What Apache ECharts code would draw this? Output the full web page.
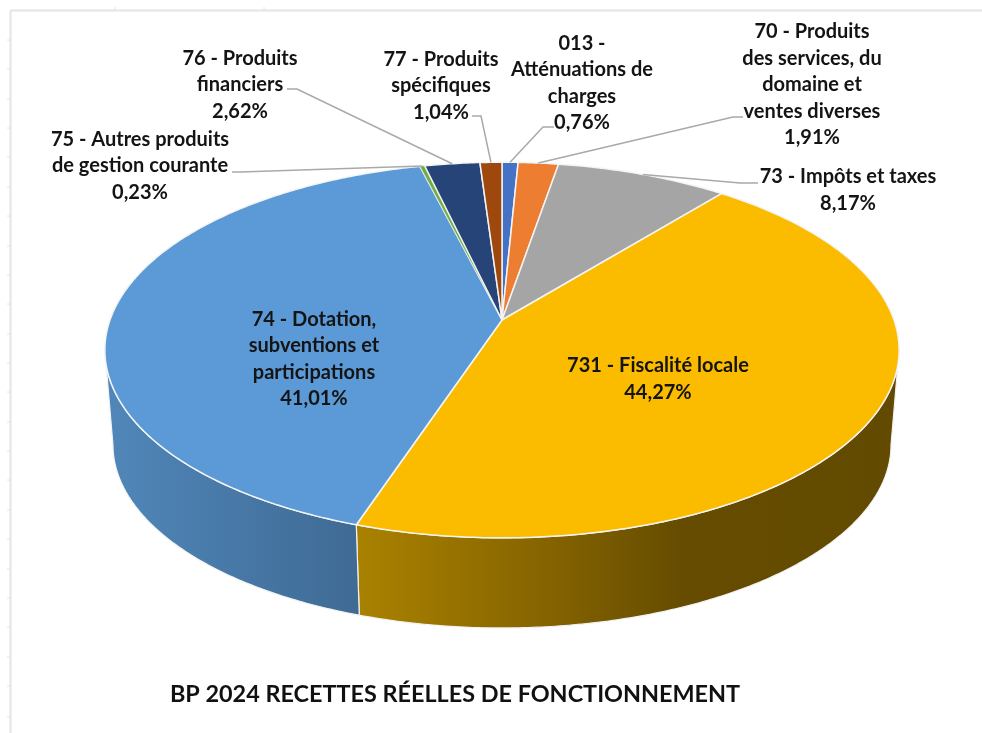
<!DOCTYPE html>
<html><head><meta charset="utf-8">
<style>html,body{margin:0;padding:0;background:#fff}#c{width:982px;height:733px}</style>
<script src="https://cdn.jsdelivr.net/npm/echarts@6/dist/echarts.min.js"></script>
</head><body><div id="c"></div>
<script>
const categories = [
  '013 -\nAtténuations de\ncharges',
  '70 - Produits\ndes services, du\ndomaine et\nventes diverses',
  '73 - Impôts et taxes',
  '731 - Fiscalité locale',
  '74 - Dotation,\nsubventions et\nparticipations',
  '75 - Autres produits\nde gestion courante',
  '76 - Produits\nfinanciers',
  '77 - Produits\nspécifiques'
];
const values = [0.76, 1.91, 8.17, 44.27, 41.01, 0.23, 2.62, 1.04];
const title = 'BP 2024 RECETTES RÉELLES DE FONCTIONNEMENT';

const colors = ['#4472C4','#ED7D31','#A5A5A5','#FBBC00','#5B9AD6','#70AD47','#264478','#9E480E'];
const wallFills = {
  3: [[0,'#AA8200'],[0.3,'#8B6800'],[0.6,'#654C00'],[1,'#624A00']],
  4: [[0,'#5087BA'],[1,'#3F6A94']]
};
// block centres of the labels, and the elbow of the leader lines
const labelCentres = [[582,83],[812,85],[848,190],[658,379],[314,359],[140,166],[240,85],[441,86]];
const leaderStarts = [[554,127],[743,117],[758,183],null,null,[232,172],[287,89],[472,116]];
const leaderKnees  = [[543,127],[733,117],[740,183],null,null,[240,172],[297,89],[481,116]];
const frameTicksLeft = [40,69,99,128,157,187,216,246,275,304,334,363,392,422,451,480,510,539,569,598,627,657,686,717];
const frameTicksTop = [115,264];

const total = values.reduce((a,b)=>a+b,0);
const cumulative = values.reduce((acc,v)=>{acc.push(acc[acc.length-1]+v);return acc;},[0]);
const toAngle = v => echarts.number.linearMap(v,[0,total],[0,Math.PI*2]);

// perspective projection of the two parallel disc planes
const persp = 0.16;
const topPlane = {cx:502, cy:320, a:183, b:392};
const basePlane = {cx:502, cy:415.7, a:178.3, b:384};
function project(plane, t){
  const x = Math.sin(t), y = -Math.cos(t), w = 1 - persp*y;
  return [plane.cx + plane.b*x/w, plane.cy + plane.a*y/w];
}
function arc(plane, t0, t1){
  const n = Math.max(2, Math.ceil(Math.abs(t1-t0)/0.01)), pts = [];
  for(let i=0;i<=n;i++) pts.push(project(plane, t0+(t1-t0)*i/n));
  return pts;
}
const visFrom = Math.acos(-persp), visTo = Math.PI*2 - visFrom;

function renderWall(params){
  const i = params.dataIndex;
  const t0 = Math.max(toAngle(cumulative[i]), visFrom), t1 = Math.min(toAngle(cumulative[i+1]), visTo);
  if(t1 <= t0) return {type:'group',children:[]};
  const pts = arc(topPlane,t0,t1).concat(arc(basePlane,t0,t1).reverse());
  const stops = (wallFills[i]||[[0,colors[i]],[1,colors[i]]]).map(s=>({offset:s[0],color:s[1]}));
  return {type:'polygon',shape:{points:pts},style:{
    fill:new echarts.graphic.LinearGradient(0,0,1,0,stops),
    stroke:'#f2f2f2',lineWidth:1.2,lineJoin:'round'}};
}
function renderTop(params){
  const i = params.dataIndex;
  const pts = [[topPlane.cx,topPlane.cy]].concat(arc(topPlane,toAngle(cumulative[i]),toAngle(cumulative[i+1])));
  return {type:'polygon',shape:{points:pts},style:{fill:colors[i],stroke:'#f4f4f4',lineWidth:i===5?0.4:1.5,lineJoin:'round'}};
}
function renderLabel(params){
  const i = params.dataIndex, children = [];
  if(leaderStarts[i]){
    const rim = project(topPlane,toAngle((cumulative[i]+cumulative[i+1])/2));
    children.push({type:'polyline',shape:{points:[leaderStarts[i],leaderKnees[i],rim]},
      style:{fill:null,stroke:'#A9A9A9',lineWidth:1.5}});
  }
  const pct = values[i].toFixed(2).replace('.',',')+'%';
  children.push({type:'text',style:{
    text:categories[i]+'\n'+pct, x:labelCentres[i][0], y:labelCentres[i][1],
    align:'center',verticalAlign:'middle',lineHeight:26.5,
    fill:'#141414',font:'700 20px Lato, sans-serif'}});
  return {type:'group',children};
}
const frame = [
  {type:'line',shape:{x1:10.5,y1:10.5,x2:982,y2:10.5},style:{stroke:'#E4E4E4',lineWidth:2}},
  {type:'line',shape:{x1:10.5,y1:10.5,x2:10.5,y2:733},style:{stroke:'#E4E4E4',lineWidth:2}}
].concat(frameTicksLeft.map(y=>({type:'line',shape:{x1:7,y1:y,x2:10,y2:y},style:{stroke:'#E4E4E4',lineWidth:1}})))
 .concat(frameTicksTop.map(x=>({type:'line',shape:{x1:x,y1:7,x2:x,y2:10},style:{stroke:'#E4E4E4',lineWidth:1}})));

const chart = echarts.init(document.getElementById('c'),null,{renderer:'canvas'});
const seriesData = values.map((v,i)=>({name:categories[i],value:v}));
chart.setOption({
  animation:false,
  backgroundColor:'#fff',
  title:{text:title,left:450,top:689,textAlign:'center',textVerticalAlign:'middle',
    textStyle:{color:'#111',fontFamily:'Lato, sans-serif',fontWeight:700,fontSize:23.4}},
  graphic:frame,
  series:[
    {type:'custom',coordinateSystem:'none',silent:true,z:2,data:seriesData,renderItem:renderWall},
    {type:'custom',coordinateSystem:'none',silent:true,z:3,data:seriesData,renderItem:renderTop},
    {type:'custom',coordinateSystem:'none',silent:true,z:4,data:seriesData,renderItem:renderLabel}
  ]
});
</script></body></html>
